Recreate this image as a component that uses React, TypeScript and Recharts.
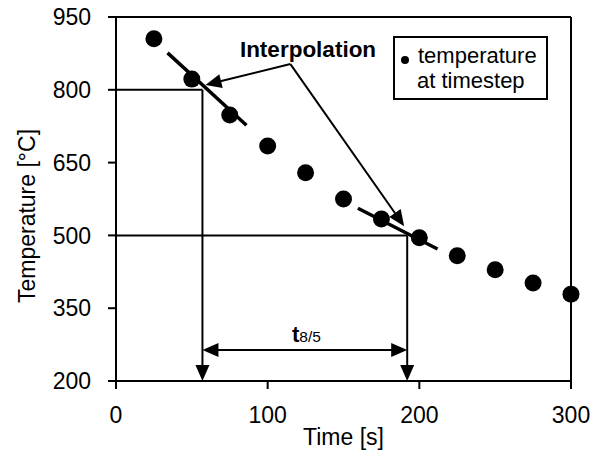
import React from 'react';
import {
  ScatterChart,
  Scatter,
  XAxis,
  YAxis,
  ReferenceLine,
} from 'recharts';

// temperature readings at each timestep
const timeS = [25, 50, 75, 100, 125, 150, 175, 200, 225, 250, 275, 300];
const tempC = [905, 822, 748, 684, 629, 575, 534, 495, 458, 429, 402, 379];

const xTicks = [0, 100, 200, 300];
const yTicks = [200, 350, 500, 650, 800, 950];

// t8/5 construction
const level8 = 800;
const level5 = 500;
const t8 = 57;
const t5 = 192;
const spanY = 264;

// interpolation segments [x, y]
const interp1 = [[34, 876], [86, 727]];
const interp2 = [[159.5, 556], [212, 472]];

// callout arrows from the "Interpolation" label
const calloutFrom = [115, 853];
const calloutTo = [[59, 810], [190, 519]];

const rows = timeS.map((t, i) => ({ t, temp: tempC[i] }));

const FONT = '"Liberation Sans", Arial, sans-serif';
const INK = '#000';

const head = (x: number, y: number, fx: number, fy: number, len = 16, w = 7) => {
  // triangle with tip at (x,y), pointing away from (fx,fy)
  const dx = x - fx;
  const dy = y - fy;
  const d = Math.hypot(dx, dy) || 1;
  const ux = dx / d;
  const uy = dy / d;
  const bx = x - ux * len;
  const by = y - uy * len;
  return `${x},${y} ${bx - uy * w},${by + ux * w} ${bx + uy * w},${by - ux * w}`;
};

const Arrow = (props: any) => {
  const { x1, y1, x2, y2, both } = props;
  const d = Math.hypot(x2 - x1, y2 - y1) || 1;
  const ux = (x2 - x1) / d;
  const uy = (y2 - y1) / d;
  return (
    <g>
      <line
        x1={both ? x1 + ux * 10 : x1}
        y1={both ? y1 + uy * 10 : y1}
        x2={x2 - ux * 10}
        y2={y2 - uy * 10}
        stroke={INK}
        strokeWidth={2}
      />
      <polygon points={head(x2, y2, x1, y1)} fill={INK} />
      {both && <polygon points={head(x1, y1, x2, y2)} fill={INK} />}
    </g>
  );
};

const Dot = (props: any) => {
  const { cx, cy } = props;
  return <circle cx={cx} cy={cy} r={8.5} fill={INK} />;
};

export default function App() {
  const tick = { fill: INK, fontSize: 23, fontFamily: FONT };
  return (
    <div style={{ position: 'absolute', left: 0, top: 0, width: 602, height: 456, background: '#fff' }}>
      <ScatterChart width={602} height={456} margin={{ top: 17, right: 31, bottom: 0, left: 0 }}>
        <XAxis
          type="number"
          dataKey="t"
          domain={[0, 300]}
          ticks={xTicks}
          height={75}
          tickSize={8}
          tickMargin={18}
          stroke={INK}
          strokeWidth={2}
          tick={tick}
        />
        <YAxis
          type="number"
          dataKey="temp"
          domain={[200, 950]}
          ticks={yTicks}
          width={116}
          tickSize={8}
          tickMargin={17}
          stroke={INK}
          strokeWidth={2}
          tick={tick}
        />
        <ReferenceLine y={950} stroke={INK} strokeWidth={2} />
        <ReferenceLine x={300} stroke={INK} strokeWidth={2} />

        <ReferenceLine segment={[{ x: 0, y: level8 }, { x: t8, y: level8 }]} stroke={INK} strokeWidth={2} />
        <ReferenceLine segment={[{ x: 0, y: level5 }, { x: t5, y: level5 }]} stroke={INK} strokeWidth={2} />
        <ReferenceLine segment={[{ x: t8, y: level8 }, { x: t8, y: 200 }]} shape={<Arrow />} />
        <ReferenceLine segment={[{ x: t5, y: level5 }, { x: t5, y: 200 }]} shape={<Arrow />} />
        <ReferenceLine segment={[{ x: t8, y: spanY }, { x: t5, y: spanY }]} shape={<Arrow both />} />

        <Scatter data={rows} fill={INK} shape={<Dot />} isAnimationActive={false} />

        <ReferenceLine
          segment={[{ x: interp1[0][0], y: interp1[0][1] }, { x: interp1[1][0], y: interp1[1][1] }]}
          stroke={INK}
          strokeWidth={3.5}
        />
        <ReferenceLine
          segment={[{ x: interp2[0][0], y: interp2[0][1] }, { x: interp2[1][0], y: interp2[1][1] }]}
          stroke={INK}
          strokeWidth={3.5}
        />
        {calloutTo.map(([x, y], i) => (
          <ReferenceLine
            key={i}
            segment={[{ x: calloutFrom[0], y: calloutFrom[1] }, { x, y }]}
            shape={<Arrow />}
          />
        ))}
      </ScatterChart>

      <svg
        width={602}
        height={456}
        style={{ position: 'absolute', left: 0, top: 0, pointerEvents: 'none' }}
        fontFamily={FONT}
        fill={INK}
      >
        <text x={308} y={57} fontSize={22.5} fontWeight="bold" textAnchor="middle">
          Interpolation
        </text>
        <rect x={394} y={37} width={153} height={62} fill="none" stroke={INK} strokeWidth={2} />
        <circle cx={405} cy={60} r={4} fill={INK} />
        <text x={418} y={63} fontSize={22}>temperature</text>
        <text x={417} y={88} fontSize={22}>at timestep</text>
        <text x={292} y={342} fontSize={22} fontWeight="bold">
          t<tspan fontSize={15.5} fontWeight="normal">8/5</tspan>
        </text>
        <text x={343.5} y={445} fontSize={23} textAnchor="middle">Time [s]</text>
        <text x={35} y={216} fontSize={23} textAnchor="middle" transform="rotate(-90 35 216)">
          Temperature [°C]
        </text>
      </svg>
    </div>
  );
}
